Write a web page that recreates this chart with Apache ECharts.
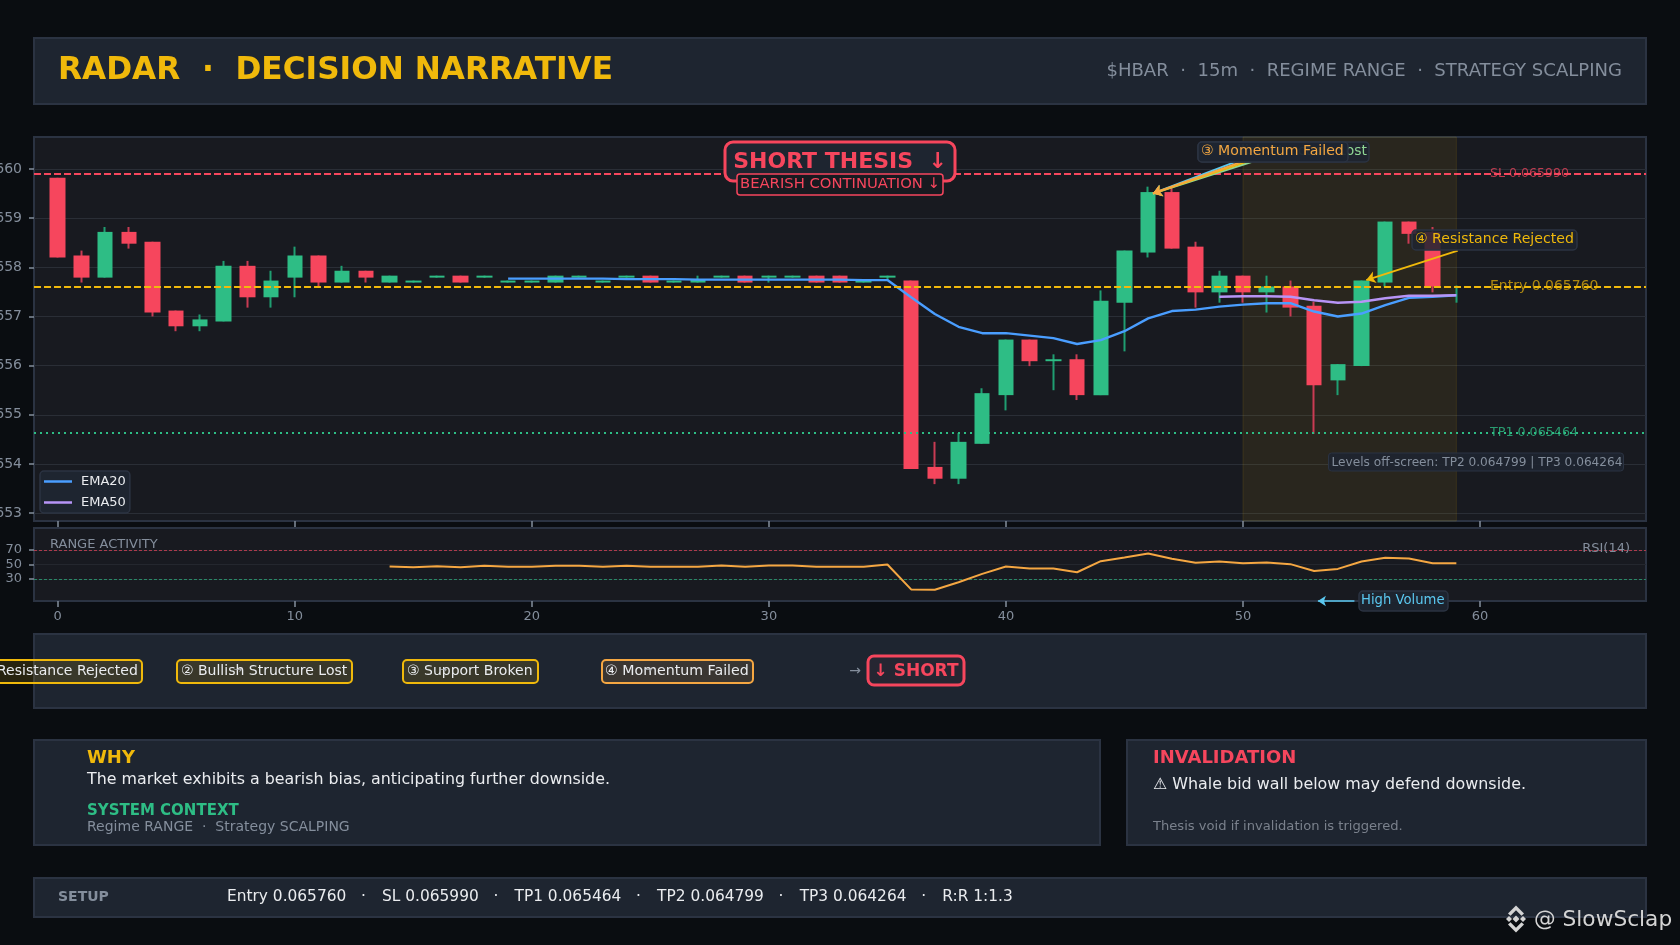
<!DOCTYPE html>
<html><head><meta charset="utf-8">
<style>html,body{margin:0;padding:0;background:#0a0d11;overflow:hidden}#c{width:1680px;height:945px}</style>
<script src="https://cdn.jsdelivr.net/npm/echarts@6/dist/echarts.min.js"></script>
</head><body><div id="c"></div>
<script>
const openP=[.065982,.065824,.065779,.065872,.065852,.065712,.065680,.065690,.065803,.065739,.065779,.065824,.065769,.065793,.065769,.065769,.065779,.065783,.065779,.065769,.065769,.065769,.065779,.065769,.065779,.065783,.065769,.065769,.065779,.065783,.065779,.065779,.065783,.065783,.065769,.065779,.065773,.065394,.065370,.065441,.065540,.065653,.065609,.065613,.065540,.065728,.065830,.065953,.065842,.065749,.065783,.065749,.065761,.065722,.065570,.065599,.065769,.065893,.065872,.065761];
const closeP=[.065820,.065779,.065872,.065848,.065708,.065680,.065694,.065803,.065739,.065773,.065824,.065769,.065793,.065779,.065783,.065773,.065783,.065769,.065783,.065773,.065773,.065783,.065783,.065773,.065783,.065769,.065773,.065775,.065783,.065769,.065783,.065783,.065769,.065769,.065773,.065783,.065390,.065370,.065445,.065544,.065653,.065609,.065613,.065540,.065732,.065834,.065953,.065838,.065749,.065783,.065749,.065761,.065718,.065560,.065603,.065773,.065893,.065868,.065761,.065761];
const lowP=[.065820,.065769,.065779,.065838,.065700,.065670,.065670,.065690,.065718,.065718,.065739,.065761,.065769,.065769,.065769,.065769,.065779,.065769,.065779,.065769,.065769,.065769,.065779,.065769,.065779,.065769,.065769,.065769,.065779,.065769,.065769,.065779,.065769,.065769,.065769,.065775,.065390,.065359,.065359,.065441,.065509,.065599,.065550,.065530,.065540,.065629,.065820,.065838,.065718,.065728,.065728,.065708,.065700,.065461,.065540,.065599,.065761,.065848,.065749,.065728];
const highP=[.065982,.065834,.065882,.065882,.065852,.065712,.065704,.065813,.065813,.065793,.065842,.065824,.065803,.065793,.065783,.065773,.065783,.065783,.065783,.065773,.065773,.065783,.065783,.065773,.065783,.065783,.065773,.065783,.065783,.065783,.065783,.065783,.065783,.065783,.065773,.065783,.065773,.065445,.065463,.065554,.065653,.065653,.065623,.065623,.065753,.065834,.065964,.065964,.065852,.065793,.065783,.065783,.065773,.065730,.065603,.065773,.065893,.065893,.065882,.065763];
const ema20Start=19;
const ema20=[.065777,.065777,.065777,.065777,.065777,.065776,.065776,.065776,.065775,.065775,.065775,.065775,.065775,.065775,.065775,.065774,.065774,.065739,.065705,.065679,.065666,.065666,.065661,.065656,.065644,.065652,.065670,.065696,.065711,.065714,.065720,.065724,.065727,.065727,.065710,.065700,.065706,.065723,.065738,.065740,.065743];
const ema50Start=49;
const ema50=[.065740,.065741,.065741,.065740,.065733,.065728,.065730,.065737,.065742,.065742,.065743];
const rsiStart=14;
const rsi=[47.2,46.3,47.7,46.3,48.2,46.8,46.8,48.2,48.2,46.8,48.2,46.8,46.8,46.8,48.6,46.8,48.6,48.6,46.8,46.8,46.8,50,15.9,15.4,25.6,37.1,47.2,44.5,44.5,39.4,54.6,59.7,65.2,57.8,52.3,54.1,51.8,52.8,50.5,41.2,44,54.1,59.2,58.3,51.8,51.8];
const priceTicks=[.0653,.0654,.0655,.0656,.0657,.0658,.0659,.0660];
const rsiTicks=[30,50,70];
const xTicks=[0,10,20,30,40,50,60];
const xStart=-1, xEnd=67;
const slLevel=.06599, entryLevel=.06576, tp1Level=.065464;
const headerTitle='RADAR  ·  DECISION NARRATIVE';
const headerRight='$HBAR  ·  15m  ·  REGIME RANGE  ·  STRATEGY SCALPING';
const setupText='Entry 0.065760   ·\u200A   SL 0.065990   ·\u200A   TP1 0.065464   ·\u200A   TP2 0.064799   ·\u200A   TP3 0.064264   ·\u200A   R:R 1:1.3';

const F='"DejaVu Sans"';
const GREEN='#2ebd85',RED='#f6465d',YEL='#f0b90b',ORG='#f5a742',GRAY='#848e9c',CYAN='#5bc8f0',TXT='#eaecef';
const PANEL='#1e2530',EDGE='#2b3342',PLOT='#181a20',AX='#848e9c';
const idx=openP.map((_,i)=>i);
const wicks=idx.map(i=>[i,openP[i],closeP[i],lowP[i],highP[i]]);
const bodies=idx.map(i=>[i,openP[i],closeP[i],Math.min(openP[i],closeP[i]),Math.max(openP[i],closeP[i])]);
const linePts=(arr,s)=>arr.map((v,i)=>[s+i,v]);

const els=[];
function panel(x,y,w,h){els.push({type:'rect',z:-5,shape:{x,y,width:w,height:h},style:{fill:PANEL,stroke:EDGE,lineWidth:2}})}
function t(x,y,text,font,fill,align,z){els.push({type:'text',z:z||50,style:{x,y,text,font:font+' '+F,fill,align:align||'left',verticalAlign:'middle'}})}
function box(x,y,w,h,fill,stroke,lw,r,z){els.push({type:'rect',z:z||40,shape:{x,y,width:w,height:h,r},style:{fill,stroke,lineWidth:lw}})}

panel(34,38,1612,66);
t(58,70.5,headerTitle,'bold 31.2px',YEL);
t(1622,71.5,headerRight,'18.06px',GRAY,'right');

panel(34,634,1612,74);
const chipFill='rgba(240,185,11,.13)';
box(-26,660,168,23,chipFill,YEL,2,4);
t(-20,671,'① Resistance Rejected','14px',TXT);
box(177,660,175,23,chipFill,YEL,2,4);
t(181,671,'② Bullish Structure Lost','14px',TXT);
t(238,670,'→','10px','#b0b4ba','center',51);
box(403,660,135,23,chipFill,YEL,2,4);
t(407,671,'③ Support Broken','14px',TXT);
t(443,670,'→','10px','#b0b4ba','center',51);
box(602,660,151,23,'rgba(245,167,66,.13)',ORG,2,4);
t(605,671,'④ Momentum Failed','14.2px',TXT);
t(648,670,'→','10px','#b0b4ba','center',51);
t(855,671,'→','14px',GRAY,'center');
box(868,656,96,29,'rgba(246,70,93,.04)',RED,3,6);
t(916,671.5,'↓ SHORT','bold 17px',RED,'center');

panel(34,740,1066,105);
t(87,758,'WHY','bold 18px',YEL);
t(87,780,'The market exhibits a bearish bias, anticipating further downside.','15.85px',TXT);
t(87,811,'SYSTEM CONTEXT','bold 15px',GREEN);
t(87,827,'Regime RANGE  ·  Strategy SCALPING','14px',GRAY);

panel(1127,740,519,105);
t(1153,758,'INVALIDATION','bold 18px',RED);
t(1153,785,'⚠ Whale bid wall below may defend downside.','15.9px',TXT);
t(1153,826.5,'Thesis void if invalidation is triggered.','13.1px','#7a818c');

panel(34,878,1612,39);
t(58,897,'SETUP','bold 14px',GRAY);
t(227,897,setupText,'15.4px',TXT);

// chart annotations
box(725,142,230,39,PANEL,RED,3,8,60);
t(840,162,'SHORT THESIS  ↓','bold 22px',RED,'center',61);
box(737,174,206,21,PLOT,RED,1.5,3,62);
t(840,184,'BEARISH CONTINUATION ↓','14.8px',RED,'center',63);

box(1198,142,171,20,'rgba(30,37,48,.9)',EDGE,1.5,4,55);
t(1202,151,'② Bullish Structure Lost','13.9px','#8fd694','left',56);
box(1198,142,150,20,'rgba(30,37,48,.95)',EDGE,1.5,4,57);
t(1201,151,'③ Momentum Failed','14.1px',ORG,'left',58);
box(1412,230,165,20,'rgba(30,37,48,.85)',EDGE,1.5,4,55);
t(1415,239.5,'④ Resistance Rejected','14.1px',YEL,'left',58);

t(1490,174,'SL 0.065990','12.6px','rgba(246,70,93,.75)','left',3);
t(1490,286.5,'Entry 0.065760','14px','rgba(240,185,11,.7)','left',3);
t(1490,433,'TP1 0.065464','12.7px','rgba(46,189,133,.8)','left',3);
box(1328.5,453,295,18,'rgba(30,37,48,.9)',EDGE,1,3,55);
t(1331.5,463,'Levels off-screen: TP2 0.064799 | TP3 0.064264','12.15px',GRAY,'left',56);

t(50,545,'RANGE ACTIVITY','13px',GRAY,'left',20);
t(1630,548.5,'RSI(14)','13px',GRAY,'right',20);
box(1359,591,89,20,'rgba(30,37,48,.95)',EDGE,1.5,4,55);
t(1361,601,'High Volume','13.2px',CYAN,'left',56);

// watermark
const wm='#d4d4d4';
els.push({type:'group',x:1516,y:919,z:70,children:[
 {type:'polygon',z:70,shape:{points:[[0,-3.5],[3.5,0],[0,3.5],[-3.5,0]]},style:{fill:wm}},
 {type:'polygon',z:70,shape:{points:[[-10,0],[-7,-3],[-4,0],[-7,3]]},style:{fill:wm}},
 {type:'polygon',z:70,shape:{points:[[10,0],[7,-3],[4,0],[7,3]]},style:{fill:wm}},
 {type:'polygon',z:70,shape:{points:[[0,-13.5],[8,-5.5],[5.5,-3.2],[0,-8.7],[-5.5,-3.2],[-8,-5.5]]},style:{fill:wm}},
 {type:'polygon',z:70,shape:{points:[[0,13.5],[8,5.5],[5.5,3.2],[0,8.7],[-5.5,3.2],[-8,5.5]]},style:{fill:wm}}
]});
t(1534,920,'@ SlowSclap','21.7px','#d4d4d4','left',70);

const axisTick={show:true,length:6,lineStyle:{color:AX,width:1.5}};
const level=(v,style)=>[{coord:[xStart,v],lineStyle:style},{coord:[xEnd,v]}];
const option={
 animation:false,
 backgroundColor:'#0a0d11',
 graphic:{elements:els},
 legend:{data:[{name:'EMA20',icon:'rect'},{name:'EMA50',icon:'rect'}],orient:'vertical',left:40,top:471,padding:[4,4,4,4],itemWidth:28,itemHeight:2.5,itemGap:8,
  backgroundColor:'#1e2530',borderColor:EDGE,borderWidth:1.5,borderRadius:4,textStyle:{color:TXT,fontFamily:F,fontSize:13,padding:[0,0,0,4]},selectedMode:false,z:30},
 grid:[
  {left:34,top:137,width:1612,height:384,show:true,outerBoundsMode:'none',backgroundColor:PLOT,borderColor:EDGE,borderWidth:2},
  {left:34,top:528,width:1612,height:73,show:true,outerBoundsMode:'none',backgroundColor:PLOT,borderColor:EDGE,borderWidth:2}
 ],
 xAxis:[
  {gridIndex:0,type:'value',min:xStart,max:xEnd,axisLine:{show:false,onZero:false},splitLine:{show:false},axisLabel:{show:false,customValues:xTicks},axisTick:{...axisTick,customValues:xTicks}},
  {gridIndex:1,type:'value',min:xStart,max:xEnd,axisLine:{show:false,onZero:false},splitLine:{show:false},axisLabel:{customValues:xTicks,color:GRAY,fontFamily:F,fontSize:13,margin:9},axisTick:{...axisTick,customValues:xTicks}}
 ],
 yAxis:[
  {gridIndex:0,type:'value',min:.065284,max:.066065,scale:true,axisLine:{show:false,onZero:false},
   splitLine:{show:true,lineStyle:{color:'#2a2e36',width:1}},
   axisLabel:{customValues:priceTicks,color:GRAY,fontFamily:F,fontSize:14,margin:12,formatter:v=>v.toFixed(4)},
   axisTick:{show:true,length:5,lineStyle:{color:AX,width:1.5},customValues:priceTicks}},
  {gridIndex:1,type:'value',min:0,max:100,axisLine:{show:false,onZero:false},
   splitLine:{show:true,lineStyle:{color:'#24272e',width:1}},
   axisLabel:{customValues:rsiTicks,color:GRAY,fontFamily:F,fontSize:13,margin:12},
   axisTick:{show:true,length:5,lineStyle:{color:AX,width:1.5},customValues:rsiTicks}}
 ],
 series:[
  {name:'wicks',type:'candlestick',xAxisIndex:0,yAxisIndex:0,z:2,barWidth:1,data:wicks,encode:{x:0,y:[1,2,3,4]},
   itemStyle:{color:'#1f9e71',color0:'#c93b53',borderColor:'#1f9e71',borderColor0:'#c93b53',borderWidth:2},
   markArea:{silent:true,z:1,itemStyle:{color:'rgba(240,185,11,.08)',borderColor:'rgba(240,185,11,.12)',borderWidth:1},data:[[{xAxis:50},{xAxis:59}]]}},
  {name:'bodies',type:'candlestick',xAxisIndex:0,yAxisIndex:0,z:3,barWidth:16,data:bodies,encode:{x:0,y:[1,2,3,4]},
   itemStyle:{color:GREEN,color0:RED,borderColor:GREEN,borderColor0:RED,borderWidth:0}},
  {name:'EMA20',type:'line',xAxisIndex:0,yAxisIndex:0,z:5,symbol:'none',data:linePts(ema20,ema20Start),itemStyle:{color:'#4a9eff'},lineStyle:{color:'#4a9eff',width:2.4}},
  {name:'EMA50',type:'line',xAxisIndex:0,yAxisIndex:0,z:5,symbol:'none',data:linePts(ema50,ema50Start),itemStyle:{color:'#b794f6'},lineStyle:{color:'#b794f6',width:2.4}},
  {name:'levels',type:'line',xAxisIndex:0,yAxisIndex:0,z:6,symbol:'none',data:[],
   markLine:{silent:true,symbol:'none',z:6,label:{show:false},data:[
    level(slLevel,{color:RED,type:[7,3],width:2}),
    level(entryLevel,{color:YEL,type:[7,3],width:2}),
    level(tp1Level,{color:GREEN,type:[2,4],width:2})
   ]}},
  {name:'arrows',type:'line',xAxisIndex:0,yAxisIndex:0,z:7,symbol:'none',data:[],
   markLine:{silent:true,symbol:['arrow','none'],symbolSize:9,z:7,label:{show:false},data:[
    [{coord:[46.2,.065950],lineStyle:{color:CYAN,width:2,type:'solid'}},{coord:[49.65,.066014]}],
    [{coord:[46.2,.065950],lineStyle:{color:'#8fd694',width:2,type:'solid'}},{coord:[50.35,.066014]}],
    [{coord:[46.2,.065950],lineStyle:{color:YEL,width:2,type:'solid'}},{coord:[50.1,.066014]}],
    [{coord:[46.2,.065950],lineStyle:{color:ORG,width:2,type:'solid'}},{coord:[49.9,.066014]}],
    [{coord:[55.2,.065774],lineStyle:{color:YEL,width:2,type:'solid'}},{coord:[59.06,.065834]}]
   ]}},
  {name:'RSI',type:'line',xAxisIndex:1,yAxisIndex:1,z:5,symbol:'none',data:linePts(rsi,rsiStart),lineStyle:{color:ORG,width:2},itemStyle:{color:ORG},
   markLine:{silent:true,symbol:'none',z:4,label:{show:false},data:[
    {yAxis:70,lineStyle:{color:'rgba(246,70,93,.65)',type:[3,2],width:1}},
    {yAxis:30,lineStyle:{color:'rgba(46,189,133,.65)',type:[3,2],width:1}},
    [{coord:[53.16,0],symbol:'arrow',symbolSize:8,lineStyle:{color:CYAN,width:1.5,type:'solid'}},{coord:[54.7,0],symbol:'none'}]
   ]}}
 ]
};
const chart=echarts.init(document.getElementById('c'),null,{width:1680,height:945,renderer:'canvas'});
chart.setOption(option);
</script>
</body></html>
